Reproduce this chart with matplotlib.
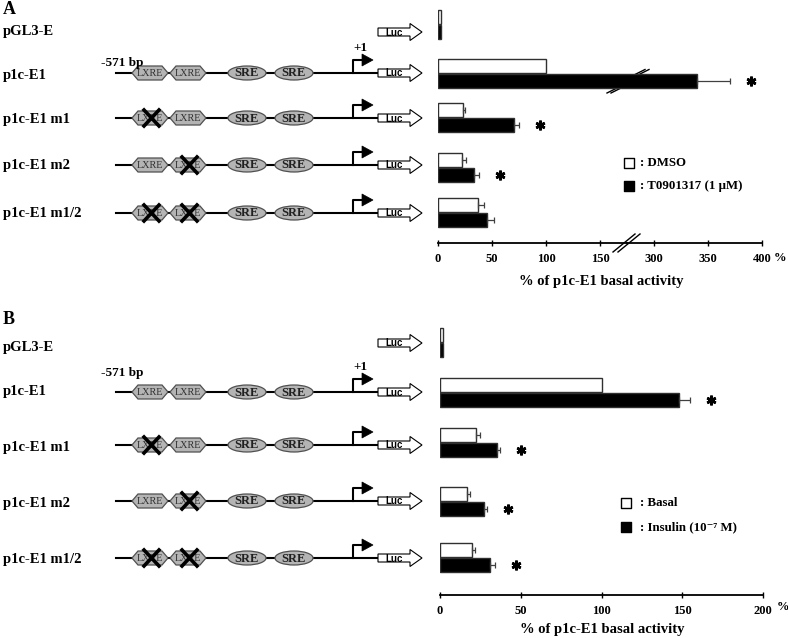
import numpy as np
import matplotlib
matplotlib.use('Agg')
import matplotlib.pyplot as plt
from matplotlib.patches import Polygon, Ellipse
from matplotlib.transforms import offset_copy

plt.rcParams['font.family'] = ['Liberation Serif', 'DejaVu Serif']
plt.rcParams['font.weight'] = 'bold'

# data
constructs = ['pGL3-E', 'p1c-E1', 'p1c-E1 m1', 'p1c-E1 m2', 'p1c-E1 m1/2']
crossed = [None, [], [0], [1], [0, 1]]   # which LXRE is mutated (None = no promoter)

a_dmso = [3, 100, 23, 22, 37]
a_dmso_err = [0, 0, 2, 4, 6]
a_t09 = [3, 340, 70, 33, 45]
a_t09_err = [0, 30, 5, 5, 7]
a_star = [False, True, True, True, False]
a_ticks_left = [0, 50, 100, 150]
a_ticks_right = [300, 350, 400]

b_basal = [2, 100, 22, 17, 20]
b_basal_err = [0, 0, 2.5, 1.5, 1.5]
b_ins = [2, 148, 35, 27, 31]
b_ins_err = [0, 7, 2, 2, 3]
b_star = [False, True, True, True, True]
b_ticks = [0, 50, 100, 150, 200]

W, H = 788, 638
fig = plt.figure(figsize=(W / 100, H / 100), dpi=100)
ax0 = fig.add_axes([0, 0, 1, 1])
ax0.set_xlim(0, W)
ax0.set_ylim(H, 0)
ax0.axis('off')

GRAY = '#b4b4b4'
EDGE = '#505050'


def luc_arrow(y):
    pts = [(378, y - 4), (410, y - 4), (410, y - 8.5), (422, y),
           (410, y + 8.5), (410, y + 4), (378, y + 4)]
    ax0.add_patch(Polygon(pts, closed=True, fc='white', ec='black', lw=0.8, zorder=2))
    ax0.text(394, y + 0.5, 'Luc', family='Liberation Sans', weight='bold', fontsize=7,
             ha='center', va='center', zorder=3)


def construct(y, cross, top=False, bp_dy=10):
    luc_arrow(y)
    if cross is None:
        return
    ax0.plot([116, 378], [y, y], color='black', lw=1.5, zorder=1)
    for i, cx in enumerate([150, 188]):
        hexa = [(cx - 18, y), (cx - 12, y - 7), (cx + 12, y - 7), (cx + 18, y),
                (cx + 12, y + 7), (cx - 12, y + 7)]
        ax0.add_patch(Polygon(hexa, closed=True, fc=GRAY, ec=EDGE, lw=0.9, zorder=2))
        ax0.text(cx, y + 0.5, 'LXRE', weight='normal', fontsize=7.3, color='#303030',
                 ha='center', va='center', zorder=3)
        if i in cross:
            xc = cx + 1.5
            ax0.plot([xc - 7.5, xc + 7.5], [y - 8, y + 8], color='black', lw=2.6, zorder=4)
            ax0.plot([xc - 7.5, xc + 7.5], [y + 8, y - 8], color='black', lw=2.6, zorder=4)
    for cx in [247, 294]:
        ax0.add_patch(Ellipse((cx, y), 38, 14, fc=GRAY, ec=EDGE, lw=0.9, zorder=2))
        ax0.text(cx, y + 0.5, 'SRE', fontsize=9, color='#202020',
                 ha='center', va='center', zorder=3)
    # promoter arrow
    ax0.plot([353, 353, 362], [y, y - 13, y - 13], color='black', lw=1.5, zorder=2)
    ax0.add_patch(Polygon([(362, y - 19), (373, y - 13), (362, y - 7)], closed=True,
                          fc='black', ec='black', lw=0.5, zorder=2))
    if top:
        ax0.text(122, y - bp_dy, '-571 bp', fontsize=9.5, ha='center', va='center')
        ax0.text(360, y - 25, '+1', fontsize=9.5, ha='center', va='center')


def bar_axes(x0, x1, ytop, ybot, xlim, ticks):
    ax = fig.add_axes([x0 / W, 1 - ybot / H, (x1 - x0) / W, (ybot - ytop) / H])
    ax.set_xlim(*xlim)
    ax.set_ylim(ybot, ytop)
    ax.patch.set_visible(False)
    for s in ['top', 'right', 'left']:
        ax.spines[s].set_visible(False)
    ax.spines['bottom'].set_linewidth(1.3)
    ax.set_yticks([])
    ax.set_xticks(ticks)
    ax.tick_params(axis='x', direction='inout', length=4, width=1, pad=5, labelsize=9)
    return ax


def draw_bars(ax, centers, white, white_err, black, black_err, star):
    c = np.array(centers, dtype=float)
    white = np.array(white, dtype=float)
    black = np.array(black, dtype=float)
    white_err = np.array(white_err, dtype=float)
    black_err = np.array(black_err, dtype=float)
    ax.barh(c - 7.5, white, height=14, color='white', edgecolor='#303030', lw=1)
    ax.barh(c + 7.5, black, height=14, color='black', edgecolor='#303030', lw=1)
    m = white_err > 0
    ax.errorbar(white[m], c[m] - 7.5, xerr=[np.zeros(m.sum()), white_err[m]], fmt='none',
                ecolor='#404040', elinewidth=0.9, capsize=2.2, capthick=0.9)
    m = black_err > 0
    ax.errorbar(black[m], c[m] + 7.5, xerr=[np.zeros(m.sum()), black_err[m]], fmt='none',
                ecolor='#404040', elinewidth=0.9, capsize=2.2, capthick=0.9)
    lo, hi = ax.get_xlim()
    tr = offset_copy(ax.transData, fig=fig, x=21, y=0, units='dots')
    for i in range(len(c)):
        xe = black[i] + black_err[i]
        if star[i] and lo <= xe <= hi:
            ax.plot(xe, c[i] + 7.5, marker=(6, 2, 0), ms=7, mew=1.9, color='black',
                    transform=tr, clip_on=False)


# ---------- panel A ----------
ax0.text(3, 10, 'A', fontsize=13, va='center', ha='left')
a_rows = [32, 73, 118, 165, 213]
a_lab = [32, 76, 119, 166, 213]
for i, name in enumerate(constructs):
    ax0.text(3, a_lab[i], name, fontsize=10.5, ha='left', va='center')
    construct(a_rows[i], crossed[i], top=(i == 1), bp_dy=10)

a_centers = [24.5, 73, 117, 167, 212]
px = 1.08
axA1 = bar_axes(438, 438 + 175 * px, 0, 243, (0, 175), a_ticks_left)
axA2 = bar_axes(438 + 175 * px, 438 + 300 * px, 0, 243, (275, 400), a_ticks_right)
for ax in (axA1, axA2):
    draw_bars(ax, a_centers, a_dmso, a_dmso_err, a_t09, a_t09_err, a_star)

# break marks
xb = 438 + 175 * px
for d in (0, 5):
    ax0.plot([xb - 14 + d, xb + 8 + d], [252, 234], color='black', lw=1)
for d in (0, 4):
    ax0.plot([xb + 6 + d, xb + 18 + d], [75.5, 69.5], color='black', lw=1)
    ax0.plot([xb - 20 + d, xb - 8 + d], [93, 87], color='black', lw=1)
ax0.text(780, 258, '%', fontsize=9, ha='center', va='center')
ax0.text(601, 282, '% of p1c-E1 basal activity', fontsize=10.5, ha='center', va='center')

# legend A
ax0.scatter([629], [163], marker='s', s=55, fc='white', ec='black', lw=1)
ax0.scatter([629], [186], marker='s', s=55, fc='black', ec='black', lw=1)
ax0.text(640, 163, ': DMSO', fontsize=9.3, va='center')
ax0.text(640, 186, ': T0901317 (1 μM)', fontsize=9.3, va='center')

# ---------- panel B ----------
ax0.text(3, 319, 'B', fontsize=13, va='center', ha='left')
b_rows = [343, 392, 445, 501, 558]
b_lab = [348, 392, 447, 503, 560]
for i, name in enumerate(constructs):
    ax0.text(3, b_lab[i], name, fontsize=10.5, ha='left', va='center')
    construct(b_rows[i], crossed[i], top=(i == 1), bp_dy=19)

b_centers = [342.5, 392, 442.5, 501, 557]
axB = bar_axes(440, 763, 310, 595, (0, 200), b_ticks)
draw_bars(axB, b_centers, b_basal, b_basal_err, b_ins, b_ins_err, b_star)
ax0.text(783, 607, '%', fontsize=9, ha='center', va='center')
ax0.text(602, 629, '% of p1c-E1 basal activity', fontsize=10.5, ha='center', va='center')

ax0.scatter([626], [503], marker='s', s=55, fc='white', ec='black', lw=1)
ax0.scatter([626], [527], marker='s', s=55, fc='black', ec='black', lw=1)
ax0.text(640, 503, ': Basal', fontsize=9.3, va='center')
ax0.text(640, 527, ': Insulin (10⁻⁷ M)', fontsize=9.3, va='center')

fig.savefig('out.png', dpi=100)
